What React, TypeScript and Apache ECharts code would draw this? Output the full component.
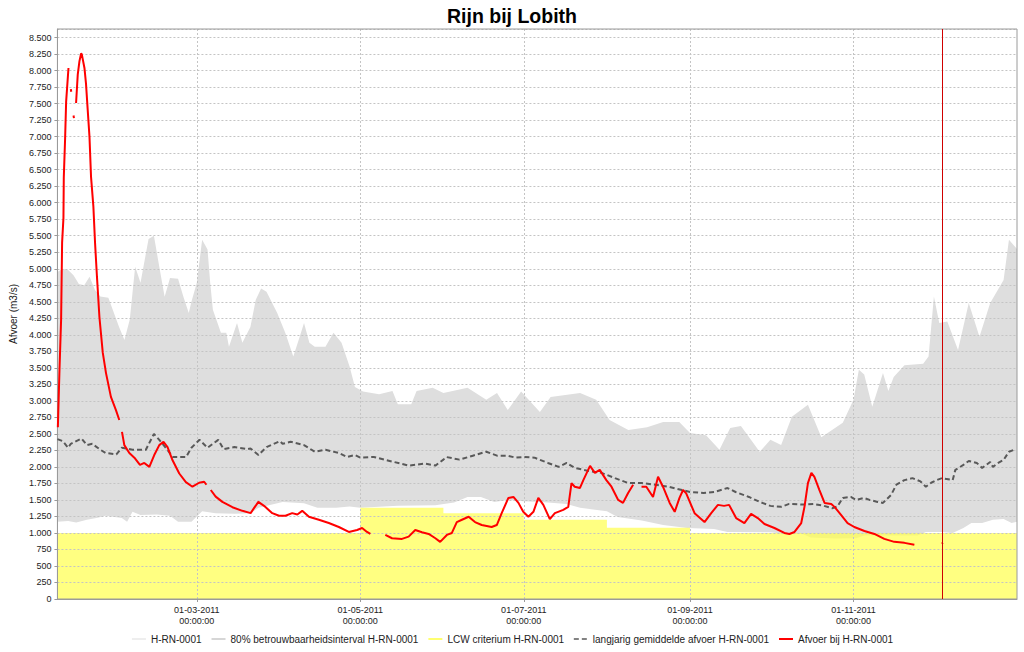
import React, { useEffect, useRef } from 'react';
import * as echarts from 'echarts';

const chartTitle = 'Rijn bij Lobith';
const yAxisName = 'Afvoer (m3/s)';
const xMin = '2011-01-08';
const xMax = '2012-01-01';
const xTickDates = ['2011-03-01', '2011-05-01', '2011-07-01', '2011-09-01', '2011-11-01'];
const nowMarker = '2011-12-04 04:00';
const yMax = 8630;
const yStep = 250;

const nameLower = 'H-RN-0001';
const nameBand = '80% betrouwbaarheidsinterval H-RN-0001';
const nameLcw = 'LCW criterium H-RN-0001';
const nameMean = 'langjarig gemiddelde afvoer H-RN-0001';
const nameFlow = 'Afvoer bij H-RN-0001';

const bandUpper: [string, number][] = [
  ['2011-01-08', 4950], ['2011-01-10', 5000], ['2011-01-12', 4980], ['2011-01-14', 4900],
  ['2011-01-16', 4770], ['2011-01-18', 4750], ['2011-01-20', 4880], ['2011-01-22', 4680],
  ['2011-01-24', 4580], ['2011-01-27', 4560], ['2011-01-31', 4120], ['2011-02-02', 3920],
  ['2011-02-04', 4230], ['2011-02-06', 5030], ['2011-02-08', 4790], ['2011-02-11', 5450],
  ['2011-02-13', 5500], ['2011-02-15', 5030], ['2011-02-17', 4575], ['2011-02-19', 4860],
  ['2011-02-22', 4850], ['2011-02-24', 4575], ['2011-02-26', 4330], ['2011-02-27', 4500],
  ['2011-03-01', 4790], ['2011-03-03', 5440], ['2011-03-05', 5290], ['2011-03-06', 4790],
  ['2011-03-07', 4380], ['2011-03-10', 4030], ['2011-03-12', 4030], ['2011-03-13', 3820],
  ['2011-03-16', 4180], ['2011-03-18', 3880], ['2011-03-21', 4120], ['2011-03-23', 4530],
  ['2011-03-25', 4700], ['2011-03-27', 4650], ['2011-03-31', 4330], ['2011-04-03', 4030],
  ['2011-04-06', 3670], ['2011-04-08', 3920], ['2011-04-10', 4180], ['2011-04-12', 3880],
  ['2011-04-14', 3820], ['2011-04-18', 3820], ['2011-04-21', 4030], ['2011-04-24', 3880],
  ['2011-04-27', 3520], ['2011-04-29', 3210], ['2011-05-02', 3140], ['2011-05-08', 3100],
  ['2011-05-13', 3150], ['2011-05-15', 2950], ['2011-05-20', 2950], ['2011-05-22', 3150],
  ['2011-05-28', 3200], ['2011-06-01', 3120], ['2011-06-10', 3200], ['2011-06-17', 3015],
  ['2011-06-21', 3120], ['2011-06-25', 2860], ['2011-06-30', 3140], ['2011-07-07', 2830],
  ['2011-07-11', 3060], ['2011-07-22', 3120], ['2011-07-28', 3015], ['2011-08-02', 2710],
  ['2011-08-09', 2560], ['2011-08-16', 2600], ['2011-08-22', 2680], ['2011-08-28', 2680],
  ['2011-09-01', 2515], ['2011-09-07', 2480], ['2011-09-12', 2260], ['2011-09-16', 2590],
  ['2011-09-20', 2620], ['2011-09-27', 2230], ['2011-10-01', 2410], ['2011-10-05', 2330],
  ['2011-10-09', 2760], ['2011-10-15', 2940], ['2011-10-20', 2450], ['2011-10-24', 2560],
  ['2011-10-28', 2670], ['2011-11-01', 3015], ['2011-11-03', 3470], ['2011-11-05', 3400],
  ['2011-11-08', 2910], ['2011-11-12', 3420], ['2011-11-14', 3150], ['2011-11-16', 3360],
  ['2011-11-20', 3540], ['2011-11-27', 3560], ['2011-11-29', 3670], ['2011-12-01', 4580],
  ['2011-12-03', 4180], ['2011-12-06', 4200], ['2011-12-10', 3770], ['2011-12-14', 4480],
  ['2011-12-18', 3970], ['2011-12-22', 4480], ['2011-12-27', 4830], ['2011-12-29', 5440],
  ['2012-01-01', 5300],
];

const bandLower: [string, number][] = [
  ['2011-01-08', 1170], ['2011-01-12', 1180], ['2011-01-15', 1160], ['2011-01-19', 1200],
  ['2011-01-23', 1230], ['2011-01-26', 1260], ['2011-02-01', 1225], ['2011-02-03', 1170],
  ['2011-02-05', 1320], ['2011-02-08', 1270], ['2011-02-14', 1280], ['2011-02-19', 1260],
  ['2011-02-22', 1170], ['2011-02-27', 1170], ['2011-03-03', 1330], ['2011-03-08', 1300],
  ['2011-03-15', 1290], ['2011-03-21', 1300], ['2011-03-24', 1380], ['2011-04-02', 1470],
  ['2011-04-10', 1450], ['2011-04-15', 1380], ['2011-04-22', 1380], ['2011-04-27', 1400],
  ['2011-05-01', 1380], ['2011-05-15', 1410], ['2011-05-29', 1420], ['2011-06-05', 1460],
  ['2011-06-10', 1545], ['2011-06-15', 1545], ['2011-06-20', 1470], ['2011-06-25', 1500],
  ['2011-07-01', 1480], ['2011-07-10', 1460], ['2011-07-17', 1440], ['2011-07-22', 1380],
  ['2011-08-01', 1330], ['2011-08-05', 1240], ['2011-08-14', 1190], ['2011-08-22', 1120],
  ['2011-08-31', 1075], ['2011-09-10', 1060], ['2011-09-15', 1015], ['2011-10-01', 1010],
  ['2011-10-05', 990], ['2011-10-13', 985], ['2011-10-16', 930], ['2011-10-25', 915],
  ['2011-11-02', 920], ['2011-11-05', 960], ['2011-11-25', 960], ['2011-11-28', 1015],
  ['2011-12-04', 1015], ['2011-12-08', 1000], ['2011-12-12', 1075], ['2011-12-15', 1150],
  ['2011-12-19', 1150], ['2011-12-23', 1200], ['2011-12-27', 1210], ['2011-12-30', 1150],
  ['2012-01-01', 1170],
];

const lcwCriterion: [string, number][] = [
  ['2011-01-08', 1000], ['2011-05-01', 1380], ['2011-06-01', 1300], ['2011-07-01', 1200],
  ['2011-08-01', 1080], ['2011-09-01', 1000], ['2012-01-01', 1000],
];

const longTermMean: [string, number][] = [
  ['2011-01-08', 2420], ['2011-01-10', 2390], ['2011-01-12', 2290], ['2011-01-13', 2350],
  ['2011-01-17', 2430], ['2011-01-19', 2330], ['2011-01-21', 2350], ['2011-01-24', 2260],
  ['2011-01-26', 2210], ['2011-01-30', 2190], ['2011-02-01', 2290], ['2011-02-05', 2260],
  ['2011-02-10', 2260], ['2011-02-13', 2500], ['2011-02-15', 2410], ['2011-02-18', 2260],
  ['2011-02-20', 2150], ['2011-02-25', 2150], ['2011-02-27', 2290], ['2011-03-02', 2410],
  ['2011-03-05', 2290], ['2011-03-09', 2410], ['2011-03-11', 2270], ['2011-03-15', 2300],
  ['2011-03-20', 2270], ['2011-03-21', 2280], ['2011-03-24', 2180], ['2011-03-27', 2300],
  ['2011-04-01', 2390], ['2011-04-02', 2350], ['2011-04-05', 2380], ['2011-04-10', 2330],
  ['2011-04-14', 2230], ['2011-04-18', 2260], ['2011-04-23', 2210], ['2011-04-26', 2150],
  ['2011-04-29', 2180], ['2011-05-01', 2140], ['2011-05-06', 2150], ['2011-05-13', 2080],
  ['2011-05-19', 2020], ['2011-05-25', 2050], ['2011-05-29', 2020], ['2011-06-01', 2110],
  ['2011-06-02', 2150], ['2011-06-07', 2110], ['2011-06-12', 2170], ['2011-06-17', 2230],
  ['2011-06-21', 2170], ['2011-06-25', 2170], ['2011-06-28', 2140], ['2011-07-01', 2150],
  ['2011-07-05', 2140], ['2011-07-10', 2060], ['2011-07-14', 2000], ['2011-07-17', 2060],
  ['2011-07-20', 1985], ['2011-07-25', 1940], ['2011-07-30', 1910], ['2011-08-04', 1830],
  ['2011-08-09', 1755], ['2011-08-14', 1755], ['2011-08-19', 1730], ['2011-08-24', 1700],
  ['2011-08-29', 1650], ['2011-09-01', 1620], ['2011-09-06', 1605], ['2011-09-10', 1620],
  ['2011-09-15', 1680], ['2011-09-18', 1620], ['2011-09-23', 1545], ['2011-09-27', 1470],
  ['2011-10-01', 1410], ['2011-10-05', 1395], ['2011-10-08', 1440], ['2011-10-13', 1430],
  ['2011-10-17', 1440], ['2011-10-21', 1410], ['2011-10-24', 1375], ['2011-10-26', 1400],
  ['2011-10-28', 1530], ['2011-10-31', 1545], ['2011-11-02', 1500], ['2011-11-05', 1530],
  ['2011-11-07', 1500], ['2011-11-10', 1470], ['2011-11-12', 1455], ['2011-11-15', 1575],
  ['2011-11-17', 1730], ['2011-11-20', 1800], ['2011-11-23', 1830], ['2011-11-26', 1780],
  ['2011-11-28', 1700], ['2011-11-30', 1760], ['2011-12-02', 1800], ['2011-12-04', 1830],
  ['2011-12-08', 1800], ['2011-12-09', 1955], ['2011-12-12', 2030], ['2011-12-14', 2090],
  ['2011-12-17', 2060], ['2011-12-19', 1985], ['2011-12-22', 2075], ['2011-12-23', 2000],
  ['2011-12-25', 2060], ['2011-12-27', 2105], ['2011-12-29', 2230], ['2011-12-31', 2260],
];

// null = gap in the measured record
const measuredFlow: [string, number | null][] = [
  ['2011-01-08 04:00', 2600], ['2011-01-08 19:00', 3500], ['2011-01-09 09:00', 4230],
  ['2011-01-09 18:00', 5400], ['2011-01-10 06:00', 5770], ['2011-01-10 09:00', 6380],
  ['2011-01-10 21:00', 6980], ['2011-01-11 06:00', 7530], ['2011-01-12 03:00', 8040],
  ['2011-01-12 14:00', null],
  ['2011-01-13 00:00', 7720], ['2011-01-13 04:00', 7680],
  ['2011-01-13 12:00', null],
  ['2011-01-14 00:00', 7320], ['2011-01-14 04:00', 7280],
  ['2011-01-14 12:00', null],
  ['2011-01-14 23:00', 7510], ['2011-01-15 14:00', 7940], ['2011-01-16 05:00', 8140],
  ['2011-01-16 20:00', 8260], ['2011-01-17 02:00', 8250], ['2011-01-18 02:00', 8040],
  ['2011-01-18 16:00', 7800], ['2011-01-19 07:00', 7410], ['2011-01-19 23:00', 7000],
  ['2011-01-20 13:00', 6390], ['2011-01-21 10:00', 5940], ['2011-01-22 01:00', 5390],
  ['2011-01-22 18:00', 4880], ['2011-01-23 16:00', 4270], ['2011-01-24 22:00', 3730],
  ['2011-01-26 03:00', 3420], ['2011-01-27 23:00', 3060], ['2011-01-29 20:00', 2860],
  ['2011-01-31 02:00', 2710],
  ['2011-01-31 14:00', null],
  ['2011-02-01 02:00', 2530], ['2011-02-01 23:00', 2330], ['2011-02-03 20:00', 2210],
  ['2011-02-05 17:00', 2140], ['2011-02-07 19:00', 2030], ['2011-02-09 10:00', 2060],
  ['2011-02-11 07:00', 2000], ['2011-02-13 03:00', 2180], ['2011-02-15 00:00', 2330],
  ['2011-02-16 14:00', 2380], ['2011-02-18 02:00', 2300], ['2011-02-19 23:00', 2100],
  ['2011-02-22 11:00', 1900], ['2011-02-24 22:00', 1770], ['2011-02-27 09:00', 1700],
  ['2011-03-01 21:00', 1760], ['2011-03-03 18:00', 1775], ['2011-03-04 14:00', 1730],
  ['2011-03-05 10:00', null],
  ['2011-03-06 05:00', 1650], ['2011-03-08 01:00', 1550], ['2011-03-10 13:00', 1470],
  ['2011-03-14 07:00', 1390], ['2011-03-18 00:00', 1335], ['2011-03-21 02:00', 1300],
  ['2011-03-22 08:00', 1375], ['2011-03-23 23:00', 1470], ['2011-03-26 02:00', 1410],
  ['2011-03-29 04:00', 1300], ['2011-03-31 16:00', 1260], ['2011-04-03 02:00', 1260],
  ['2011-04-05 14:00', 1300], ['2011-04-07 12:00', 1280], ['2011-04-09 08:00', 1335],
  ['2011-04-11 20:00', 1245], ['2011-04-15 13:00', 1200], ['2011-04-19 06:00', 1150],
  ['2011-04-23 00:00', 1090], ['2011-04-26 17:00', 1015], ['2011-04-29 19:00', 1045],
  ['2011-05-01 16:00', 1075], ['2011-05-03 12:00', 1015], ['2011-05-04 18:00', 985],
  ['2011-05-07 00:00', null],
  ['2011-05-10 08:00', 970], ['2011-05-12 20:00', 920], ['2011-05-16 13:00', 910],
  ['2011-05-19 01:00', 945], ['2011-05-21 12:00', 1045], ['2011-05-24 00:00', 1010],
  ['2011-05-26 12:00', 985], ['2011-05-29 00:00', 920], ['2011-05-30 19:00', 865],
  ['2011-06-02 07:00', 970], ['2011-06-04 04:00', 1000], ['2011-06-06 00:00', 1165],
  ['2011-06-07 22:00', 1200], ['2011-06-10 10:00', 1245], ['2011-06-12 19:00', 1165],
  ['2011-06-15 07:00', 1120], ['2011-06-19 00:00', 1090], ['2011-06-20 22:00', 1120],
  ['2011-06-22 18:00', 1300], ['2011-06-25 06:00', 1530], ['2011-06-27 03:00', 1545],
  ['2011-06-29 00:00', 1455], ['2011-06-30 19:00', 1320], ['2011-07-02 17:00', 1245],
  ['2011-07-04 14:00', 1320], ['2011-07-06 10:00', 1530], ['2011-07-08 07:00', 1425],
  ['2011-07-10 17:00', 1210], ['2011-07-12 14:00', 1300], ['2011-07-15 17:00', 1350],
  ['2011-07-17 14:00', 1395], ['2011-07-18 19:00', 1755], ['2011-07-20 00:00', 1700],
  ['2011-07-21 22:00', 1680], ['2011-07-23 05:00', 1800], ['2011-07-25 17:00', 2015],
  ['2011-07-27 12:00', 1910], ['2011-07-29 08:00', 1955], ['2011-07-31 19:00', 1800],
  ['2011-08-02 17:00', 1700], ['2011-08-05 05:00', 1500], ['2011-08-07 00:00', 1455],
  ['2011-08-08 22:00', 1605], ['2011-08-10 19:00', 1730],
  ['2011-08-12 08:00', null],
  ['2011-08-13 22:00', 1700], ['2011-08-15 17:00', 1700], ['2011-08-18 05:00', 1545],
  ['2011-08-20 02:00', 1850], ['2011-08-21 22:00', 1700], ['2011-08-24 10:00', 1455],
  ['2011-08-26 07:00', 1320], ['2011-08-28 02:00', 1530], ['2011-08-29 10:00', 1650],
  ['2011-08-30 14:00', 1600], ['2011-09-02 17:00', 1300], ['2011-09-06 10:00', 1165],
  ['2011-09-08 22:00', 1300], ['2011-09-11 10:00', 1425], ['2011-09-13 17:00', 1410],
  ['2011-09-15 14:00', 1425], ['2011-09-18 05:00', 1225], ['2011-09-21 07:00', 1150],
  ['2011-09-23 19:00', 1290], ['2011-09-26 07:00', 1225], ['2011-09-28 19:00', 1135],
  ['2011-10-02 12:00', 1075], ['2011-10-06 05:00', 1000], ['2011-10-08 02:00', 985],
  ['2011-10-10 00:00', 1015], ['2011-10-12 12:00', 1150], ['2011-10-13 17:00', 1395],
  ['2011-10-15 00:00', 1755], ['2011-10-16 07:00', 1910], ['2011-10-17 10:00', 1850],
  ['2011-10-19 07:00', 1650], ['2011-10-21 05:00', 1455], ['2011-10-23 17:00', 1440],
  ['2011-10-24 22:00', 1395], ['2011-10-27 10:00', 1270], ['2011-10-29 19:00', 1150],
  ['2011-11-01 07:00', 1090], ['2011-11-05 02:00', 1030], ['2011-11-08 19:00', 985],
  ['2011-11-12 12:00', 910], ['2011-11-16 05:00', 865], ['2011-11-20 00:00', 850],
  ['2011-11-23 17:00', 820],
  ['2011-11-28 00:00', null],
  ['2011-12-04 01:00', 835], ['2011-12-04 06:00', 850],
];

const fontFamily = '"Liberation Sans", Arial, sans-serif';

function formatThousands(v: number): string {
  return String(v).replace(/\B(?=(\d{3})+(?!\d))/g, '.');
}

export default function App() {
  const ref = useRef<HTMLDivElement>(null);

  useEffect(() => {
    if (!ref.current) return;
    const chart = echarts.init(ref.current, undefined, { renderer: 'svg' });
    const ts = (s: string) => (echarts as any).time.parse(s).getTime();
    const toXY = (rows: [string, number | null][]) => rows.map(([d, v]) => [ts(d), v]);
    const tickValues = xTickDates.map(ts);
    const hidden = { opacity: 0 };

    const option: any = {
      animation: false,
      backgroundColor: '#ffffff',
      textStyle: { fontFamily },
      title: {
        text: chartTitle,
        left: 'center',
        top: 1,
        textStyle: { fontSize: 19.5, fontWeight: 'bold', color: '#000', fontFamily },
      },
      legend: {
        bottom: 3,
        left: 'center',
        itemWidth: 14,
        itemHeight: 8,
        itemGap: 9,
        itemStyle: hidden,
        textStyle: { fontSize: 10, color: '#222', fontFamily },
        data: [
          { name: nameLower, itemStyle: hidden, lineStyle: { color: '#eeeeee', width: 2, type: 'solid' } },
          { name: nameBand, itemStyle: hidden, lineStyle: { color: '#d6d6d6', width: 2, type: 'solid' } },
          { name: nameLcw, itemStyle: hidden, lineStyle: { color: '#ffff70', width: 2, type: 'solid' } },
          { name: nameMean, itemStyle: hidden, lineStyle: { color: '#595959', width: 1.5, type: [5, 3] } },
          { name: nameFlow, itemStyle: hidden, lineStyle: { color: '#ff0000', width: 2, type: 'solid' } },
        ],
      },
      grid: {
        left: 54,
        right: 7,
        top: 29,
        bottom: 53,
        show: true,
        z: 3,
        backgroundColor: 'transparent',
        borderColor: '#9a9a9a',
        borderWidth: 1,
      },
      xAxis: {
        type: 'value',
        min: ts(xMin),
        max: ts(xMax),
        z: 2,
        axisLine: { lineStyle: { color: '#9a9a9a' } },
        axisTick: { show: true, length: 3, customValues: tickValues, lineStyle: { color: '#9a9a9a' } },
        axisLabel: {
          customValues: tickValues,
          color: '#222',
          fontSize: 9,
          fontFamily,
          margin: 5,
          lineHeight: 11,
          formatter: (v: number) => (echarts as any).time.format(v, '{dd}-{MM}-{yyyy}\n{HH}:{mm}:{ss}', false),
        },
        splitLine: { show: true, lineStyle: { color: '#c4c4c4', type: [2, 2], width: 1 } },
      },
      yAxis: {
        type: 'value',
        min: 0,
        max: yMax,
        interval: yStep,
        z: 2,
        name: yAxisName,
        nameLocation: 'middle',
        nameGap: 27,
        nameRotate: 90,
        nameTextStyle: { fontSize: 10, color: '#222', fontFamily },
        axisLine: { show: true, lineStyle: { color: '#9a9a9a' } },
        axisTick: { show: true, length: 3, lineStyle: { color: '#9a9a9a' } },
        axisLabel: {
          color: '#222',
          fontSize: 9,
          fontFamily,
          margin: 6,
          showMaxLabel: false,
          formatter: (v: number) => formatThousands(v),
        },
        splitLine: { show: true, lineStyle: { color: '#c4c4c4', type: [2, 2], width: 1 } },
      },
      series: [
        {
          name: nameBand,
          type: 'line',
          data: toXY(bandUpper),
          symbol: 'none',
          z: 1,
          silent: true,
          lineStyle: { width: 0, color: '#dedede' },
          itemStyle: { color: '#dedede' },
          areaStyle: { color: '#dedede', opacity: 1 },
        },
        {
          name: nameLower,
          type: 'line',
          data: toXY(bandLower),
          symbol: 'none',
          z: 1,
          silent: true,
          lineStyle: { width: 0, color: '#eeeeee' },
          itemStyle: { color: '#eeeeee' },
          areaStyle: { color: '#ffffff', opacity: 1 },
        },
        {
          name: nameLcw,
          type: 'line',
          data: toXY(lcwCriterion),
          step: 'end',
          symbol: 'none',
          z: 1,
          silent: true,
          lineStyle: { width: 0, color: '#ffff70' },
          itemStyle: { color: '#ffff70' },
          areaStyle: { color: '#ffff50', opacity: 0.72 },
        },
        {
          name: nameMean,
          type: 'line',
          data: toXY(longTermMean),
          symbol: 'none',
          z: 3,
          silent: true,
          lineStyle: { width: 2, color: '#595959', type: [5, 3] },
          itemStyle: { color: '#595959' },
        },
        {
          name: nameFlow,
          type: 'line',
          data: toXY(measuredFlow),
          symbol: 'none',
          z: 4,
          silent: true,
          connectNulls: false,
          lineStyle: { width: 2, color: '#ff0000' },
          itemStyle: { color: '#ff0000' },
          markLine: {
            silent: true,
            symbol: 'none',
            label: { show: false },
            lineStyle: { color: '#d00000', width: 1, type: 'solid' },
            data: [{ xAxis: ts(nowMarker) }],
          },
        },
      ],
    };

    chart.setOption(option);
    return () => chart.dispose();
  }, []);

  return (
    <div
      ref={ref}
      style={{ position: 'fixed', left: 0, top: 0, width: 1024, height: 652 }}
    />
  );
}
